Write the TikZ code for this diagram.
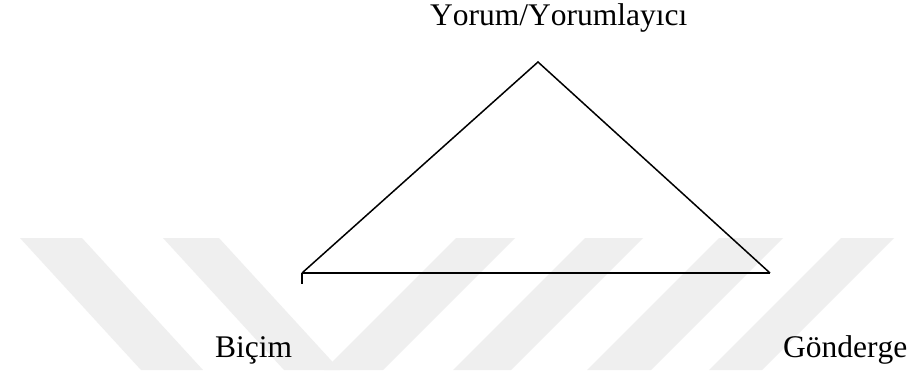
\documentclass[tikz,border=0pt]{standalone}
\usepackage{fontspec}
\setmainfont{Liberation Serif}[Kerning=Off]
\definecolor{wmark}{HTML}{EFEFEF}
\begin{document}
\begin{tikzpicture}[x=1pt,y=-1pt,
  lbl/.style={inner sep=0pt,anchor=base west,font=\fontsize{31.5}{36}\selectfont},
  edge/.style={line width=1.5pt,line join=miter},
  stripe/.style={fill=wmark,draw=none}]
\useasboundingbox (0,0) rectangle (915,370);
\fill[white] (0,0) rectangle (915,370);
% watermark stripes
\fill[stripe] (20,238) -- (82,238) -- (203,370) -- (141,370) -- cycle;
\fill[stripe] (163,238) -- (219,238) -- (340,370) -- (284,370) -- cycle;
\fill[stripe] (456,238) -- (515,238) -- (383,370) -- (324,370) -- cycle;
\fill[stripe] (585,238) -- (643,238) -- (511,370) -- (453,370) -- cycle;
\fill[stripe] (719,238) -- (783,238) -- (651,370) -- (587,370) -- cycle;
\fill[stripe] (841,238) -- (894,238) -- (762,370) -- (709,370) -- cycle;
% triangle
\coordinate (apex) at (538,62);
\coordinate (lv) at (302,273);
\coordinate (rv) at (770,273);
\coordinate (tick) at (302,284);
\draw[edge] (lv) -- (apex) -- (rv);
\draw[line width=2pt] (lv) -- (rv);
\draw[line width=1.5pt] (lv) -- (tick);
% labels
\node[lbl] (top) at (430,25) {Yorum/Yorumlayıcı};
\node[lbl] (bicim) at (215,357) {Biçim};
\node[lbl] (gond) at (783,357) {Gönderge};
\end{tikzpicture}
\end{document}
